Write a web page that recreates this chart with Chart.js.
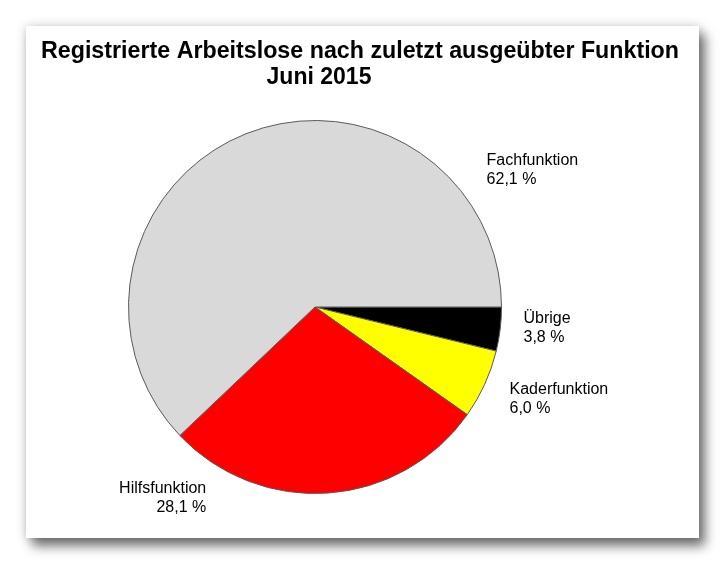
<!DOCTYPE html>
<html lang="de">
  <head>
    <meta charset="UTF-8" />
    <title>Registrierte Arbeitslose nach zuletzt ausgeübter Funktion</title>
    <script src="https://cdn.jsdelivr.net/npm/chart.js"></script>
    <style>
      html, body { margin: 0; padding: 0; background: #ffffff; }
      #frame {
        position: absolute;
        left: 26px;
        top: 26px;
        width: 673px;
        height: 512px;
        background: #ffffff;
        box-shadow: 6px 8px 11px rgba(0, 0, 0, 0.55), 0 0 10px rgba(0, 0, 0, 0.18);
      }
    </style>
  </head>
  <body>
    <div id="frame"><canvas id="pieChart" width="673" height="512"></canvas></div>

    <script>
      // Daten (im Uhrzeigersinn ab 3 Uhr)
      const categories = ["Übrige", "Kaderfunktion", "Hilfsfunktion", "Fachfunktion"];
      const shares = [3.8, 6.0, 28.1, 62.1];
      const sliceColors = ["#000000", "#ffff00", "#ff0000", "#d9d9d9"];
      const titleLines = ["Registrierte Arbeitslose nach zuletzt ausgeübter Funktion", "Juni 2015"];

      // Beschriftungen: Lage relativ zum Kreis (Vielfache des Radius)
      const labelPlacement = [
        { dx: 1.118, dy: 0.086, align: "left" },   // Übrige
        { dx: 1.043, dy: 0.465, align: "left" },   // Kaderfunktion
        { dx: -0.583, dy: 0.995, align: "right" }, // Hilfsfunktion
        { dx: 0.92, dy: -0.76, align: "left" },    // Fachfunktion
      ];

      const fmt = (v) => v.toFixed(1).replace(".", ",") + " %";

      const textPlugin = {
        id: "texts",
        afterDraw(chart) {
          const ctx = chart.ctx;
          const arcs = chart.getDatasetMeta(0).data;
          const cx = arcs[0].x;
          const cy = arcs[0].y;
          const r = arcs[0].outerRadius;

          ctx.save();
          ctx.fillStyle = "#000000";
          ctx.textBaseline = "alphabetic";

          // Titel
          ctx.textAlign = "center";
          ctx.font = "bold 23.3px 'Liberation Sans', Arial, sans-serif";
          ctx.fillText(titleLines[0], 334, 32, 638);
          ctx.font = "bold 23px 'Liberation Sans', Arial, sans-serif";
          ctx.fillText(titleLines[1], cx + 4, 58);

          // Beschriftung der Segmente
          ctx.font = "16px 'Liberation Sans', Arial, sans-serif";
          categories.forEach((name, i) => {
            const p = labelPlacement[i];
            const x = cx + p.dx * r;
            const y = cy + p.dy * r;
            ctx.textAlign = p.align;
            ctx.fillText(name, x, y);
            ctx.fillText(fmt(shares[i]), x, y + 19);
          });
          ctx.restore();
        },
      };

      const ctx = document.getElementById("pieChart").getContext("2d");
      new Chart(ctx, {
        type: "pie",
        data: {
          labels: categories,
          datasets: [
            {
              data: shares,
              backgroundColor: sliceColors,
              borderColor: "#5a5a5a",
              borderWidth: 1,
            },
          ],
        },
        options: {
          responsive: false,
          animation: false,
          rotation: 90,
          layout: {
            padding: { left: 102, right: 197, top: 94, bottom: 44 },
          },
          plugins: {
            legend: { display: false },
            tooltip: { enabled: false },
            title: { display: false },
          },
        },
        plugins: [textPlugin],
      });
    </script>
  </body>
</html>
